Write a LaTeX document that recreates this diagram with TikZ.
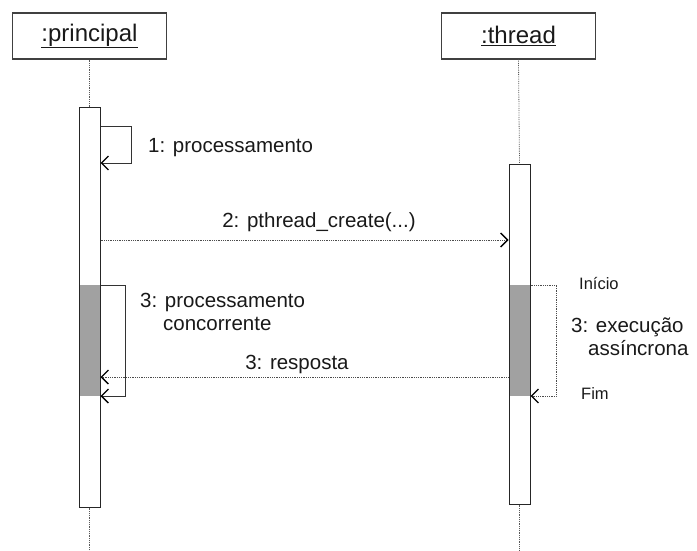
\documentclass[tikz,border=0pt]{standalone}
\usepackage{fontspec}
\setmainfont{Liberation Sans}
\usetikzlibrary{arrows.meta}

\tikzset{
  objbox/.style={draw=black!75, line width=1.2pt, minimum width=154pt, minimum height=46pt,
    inner sep=0pt, font=\fontsize{24}{28}\selectfont, text=black!90},
  actbar/.style={draw=black!85, line width=1pt, minimum width=21pt, inner sep=0pt},
  busy/.style={fill=black!37, draw=none},
  lifeline/.style={densely dotted, black!65, line width=0.8pt},
  barb/.style={-{Straight Barb[length=7pt,width=14pt,line width=1.4pt,black]}},
  call/.style={barb, black!80, line width=1pt},
  async/.style={barb, densely dotted, black!70, line width=0.8pt},
  lbl/.style={inner sep=0pt, font=\fontsize{20.5}{23}\selectfont, text=black!90},
  smalllbl/.style={inner sep=0pt, font=\fontsize{16.5}{20}\selectfont, text=black!90}
}

\begin{document}
\begin{tikzpicture}[x=1pt,y=-1pt]
\useasboundingbox (0,0) rectangle (697,551);

% objects
\node [objbox] (principal) at (89.5,36) {\underline{:principal}};
\node [objbox] (thread) at (518.5,36) {\underline{:thread}};

% busy parts of the bars
\fill [busy] (79,285) rectangle (100,396);
\fill [busy] (509,285) rectangle (530,396);

% activation bars
\node [actbar, minimum height=399pt] (barP) at (89.5,307.5) {};
\node [actbar, minimum height=340pt] (barT) at (519.5,334) {};

% lifelines
\coordinate (endP) at (89.5,551);
\coordinate (endT) at (519.5,551);
\draw [lifeline] (principal.south) -- (barP.north);
\draw [lifeline] (barP.south) -- (endP);
\draw [lifeline] (thread.south) -- (barT.north);
\draw [lifeline] (barT.south) -- (endT);

% 1: processamento
\coordinate (p1a) at (barP.east |- 0,127);
\coordinate (p1b) at (barP.east |- 0,163);
\draw [call] (p1a) -- ++(31,0) |- (p1b);
\node [lbl, anchor=base west] (m1) at (148,152) {1: processamento};

% 2: pthread_create
\coordinate (p2a) at (barP.east |- 0,240);
\coordinate (t2b) at (barT.west |- 0,240);
\draw [async] (p2a) -- (t2b);
\node [lbl, anchor=base] (m2) at (319,227) {2: pthread\_create(...)};

% 3: processamento concorrente
\coordinate (p3a) at (barP.east |- 0,285);
\coordinate (p3b) at (barP.east |- 0,396);
\draw [call] (p3a) -- ++(25,0) |- (p3b);
\node [lbl, anchor=base west, align=left] (m3) at (140,330)
  {3: processamento\\\hspace*{23pt}concorrente};

% 3: resposta
\coordinate (t3r) at (barT.west |- 0,377);
\coordinate (p3r) at (barP.east |- 0,377);
\draw [async] (t3r) -- (p3r);
\node [lbl, anchor=base] (resp) at (297,369) {3: resposta};

% 3: execucao assincrona
\coordinate (t3a) at (barT.east |- 0,285);
\coordinate (t3b) at (barT.east |- 0,396);
\draw [async] (t3a) -- ++(26,0) |- (t3b);
\node [smalllbl, anchor=base west] (inicio) at (579,289) {Início};
\node [lbl, anchor=base west, align=left] (exec) at (571,355)
  {3: execução\\\hspace*{17pt}assíncrona};
\node [smalllbl, anchor=base west] (fim) at (581,399) {Fim};
\end{tikzpicture}
\end{document}
